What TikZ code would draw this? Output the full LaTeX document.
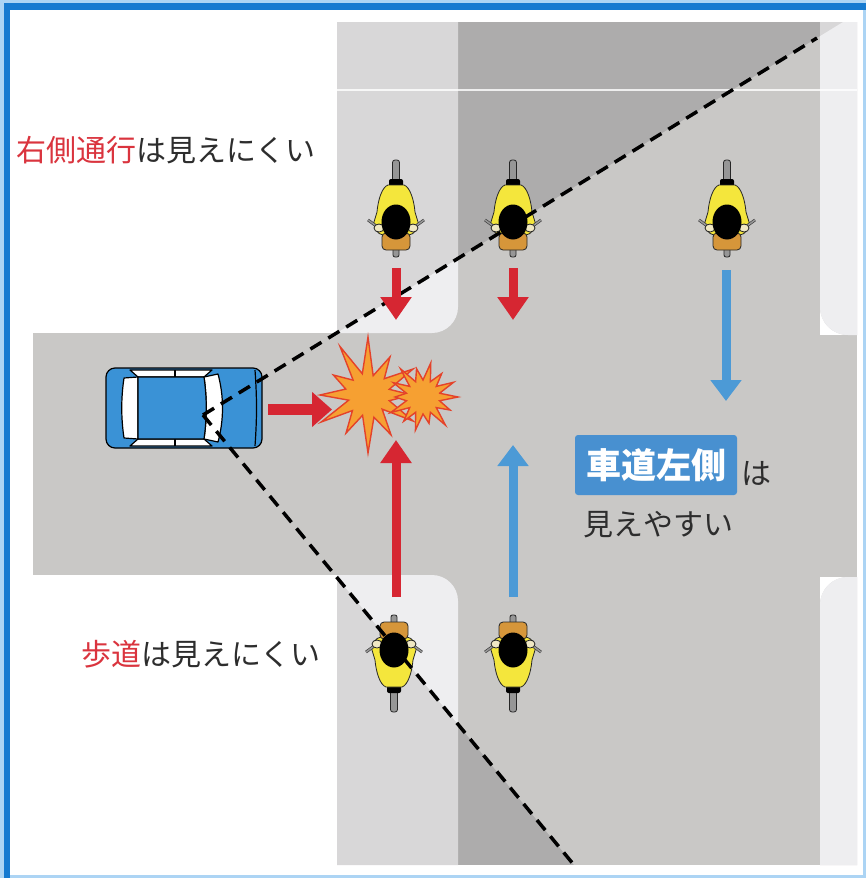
\documentclass[tikz,border=0pt]{standalone}
\usepackage{fontspec}
\setmainfont{Noto Sans CJK JP}
\usetikzlibrary{arrows.meta,calc}

\definecolor{frameBlue}{RGB}{22,122,208}
\definecolor{frameLight}{RGB}{172,212,244}
\definecolor{roadLight}{RGB}{201,200,198}
\definecolor{roadDark}{RGB}{173,172,172}
\definecolor{walkGray}{RGB}{216,215,216}
\definecolor{walkWhite}{RGB}{238,238,240}
\definecolor{carBlue}{RGB}{58,146,214}
\definecolor{warnRed}{RGB}{214,38,50}
\definecolor{textRed}{RGB}{218,52,62}
\definecolor{okBlue}{RGB}{76,154,214}
\definecolor{tagBlue}{RGB}{72,144,208}
\definecolor{boomFill}{RGB}{246,160,50}
\definecolor{boomLine}{RGB}{228,66,42}
\definecolor{bikeYellow}{RGB}{244,230,60}
\definecolor{seatOrange}{RGB}{214,150,58}
\definecolor{gloveCream}{RGB}{240,232,196}
\definecolor{wheelGray}{RGB}{150,150,150}
\definecolor{inkGray}{RGB}{45,45,45}

% the four sidewalk blocks, filled with #1
\newcommand{\sidewalks}[1]{
  \fill[#1] (337,22) -- (458,22) -- (458,307) arc[start angle=0, end angle=90, radius=26] -- (337,333) -- cycle;
  \fill[#1] (337,865) -- (337,575) -- (432,575) arc[start angle=-90, end angle=0, radius=26] -- (458,865) -- cycle;
  \fill[#1] (857,22) -- (820,22) -- (820,307) arc[start angle=180, end angle=90, radius=28] -- (857,335) -- cycle;
  \fill[#1] (857,865) -- (820,865) -- (820,605) arc[start angle=180, end angle=270, radius=28] -- (857,577) -- cycle;
}

\tikzset{
  carLine/.style = {draw=black, line width=1.2pt, line join=round},
  bikeLine/.style = {draw=black!85, line width=0.8pt},
  sight/.style = {draw=black, line width=3.5pt, dash pattern=on 13pt off 8pt},
  boom/.style = {fill=boomFill, draw=boomLine, line width=1.4pt},
  redArrow/.style = {draw=warnRed, line width=9pt, -{Triangle[width=30pt, length=23pt]}},
  blueArrow/.style = {draw=okBlue, line width=9pt, -{Triangle[width=30pt, length=21pt]}},
  noteText/.style = {anchor=west, inner sep=0pt, text=inkGray, font=\fontsize{30}{30}\selectfont},
  laneTag/.style = {fill=tagBlue, text=white, rounded corners=3pt, minimum width=162pt,
    minimum height=60pt, inner sep=0pt, font=\fontsize{35}{35}\selectfont\bfseries},
  bike/.pic = {
    % rear wheel and tail
    \draw[bikeLine, fill=wheelGray, rounded corners=2.5] (-3.5,-62) rectangle (3.5,-38);
    \fill[black, rounded corners=2] (-7,-43) rectangle (7,-34);
    % rider on the tank
    \draw[bikeLine, fill=bikeYellow] (-8,-37) .. controls (-14,-35) and (-18,-22) .. (-19,-10)
      -- (-22,0) .. controls (-22,8) and (-18,12) .. (-13,13) -- (13,13)
      .. controls (18,12) and (22,8) .. (22,0) -- (19,-10)
      .. controls (18,-22) and (14,-35) .. (8,-37) -- cycle;
    % handlebar and gloves
    \draw[draw=black!80, double=wheelGray, double distance=1.6pt, line width=0.6pt]
      (-28,-2) -- (-17,6) (28,-2) -- (17,6);
    \draw[bikeLine, fill=gloveCream] (-17,6) ellipse (5 and 4);
    \draw[bikeLine, fill=gloveCream] (17,6) ellipse (5 and 4);
    % front wheel and seat
    \draw[bikeLine, fill=wheelGray, rounded corners=2] (-3,24) rectangle (3,35);
    \draw[bikeLine, fill=seatOrange, rounded corners=4] (-14,11) rectangle (14,28);
    % helmet
    \fill[black] (0,0) ellipse (14.5 and 17.5);
  }
}

\begin{document}
\begin{tikzpicture}[x=1pt, y=-1pt]
  \useasboundingbox (0,0) rectangle (866,878);
  \fill[white] (0,0) rectangle (866,878);

  % roads and sidewalks
  \fill[roadDark] (337,22) rectangle (820,865);
  \fill[roadDark] (820,335) rectangle (857,577);
  \fill[roadLight] (33,333) rectangle (337,575);
  \sidewalks{walkGray}

  \coordinate (eye) at (203,415);
  \coordinate (viewTop) at (817,38);
  \coordinate (viewBot) at (574,865);

  % lighter inside the driver's view
  \begin{scope}
    \clip (eye) -- ($(eye)!1.2!(viewTop)$) -- (1100,-100) -- (1100,1100) -- ($(eye)!1.3!(viewBot)$) -- cycle;
    \fill[roadLight] (337,22) rectangle (820,865);
    \fill[roadLight] (820,335) rectangle (857,577);
    \sidewalks{walkWhite}
  \end{scope}
  \draw[white, line width=1.5pt, opacity=0.8] (337,90) -- (857,90);

  % car
  \begin{scope}[shift={(184,408)}]
    \draw[carLine, fill=carBlue, rounded corners=9] (-78,-40) rectangle (78,40);
    \draw[carLine] (71,-38) .. controls (73,-10) and (73,10) .. (71,38);
    \draw[carLine, fill=white] (-54,-38) -- (28,-38) -- (20,-31) -- (-46,-31) -- cycle;
    \draw[carLine, fill=white] (-54,38) -- (28,38) -- (20,31) -- (-46,31) -- cycle;
    \draw[carLine] (-9,-38) -- (-9,-31) (-9,38) -- (-9,31);
    \draw[carLine, fill=white] (-46,-31) -- (-60,-30) .. controls (-63,-10) and (-63,10) .. (-60,30) -- (-46,31) -- cycle;
    \draw[carLine, fill=white] (20,-31) -- (34,-34) .. controls (40,-12) and (40,12) .. (34,34)
      -- (20,31) .. controls (23,10) and (23,-10) .. (20,-31) -- cycle;
    \draw[carLine, fill=carBlue] (-46,-31) -- (20,-31) .. controls (23,-10) and (23,10) .. (20,31) -- (-46,31) -- cycle;
  \end{scope}

  % crash
  \coordinate (boomBig) at (368,395);
  \coordinate (boomSmall) at (423,397);
  \filldraw[boom] ($(boomBig)+(-15:22)$)
    \foreach \r/\q [count=\i] in {44/22,52/20,46/23,58/21,44/22,54/20,48/23,40/21,56/22,58/20,44/23,52/22} {
      -- ($(boomBig)+({30*(\i-1)}:\r)$) -- ($(boomBig)+({30*\i-15}:\q)$)
    } -- cycle;
  \filldraw[boom] ($(boomSmall)+(-12.857:17)$)
    \foreach \r [count=\i] in {35,30,36,27,34,31,36,28,33,36,29,35,30,34} {
      -- ($(boomSmall)+({25.714*(\i-1)}:\r)$) -- ($(boomSmall)+({25.714*\i-12.857}:17)$)
    } -- cycle;

  % riders
  \coordinate (bikeTL) at (396,222);
  \coordinate (bikeTM) at (513,222);
  \coordinate (bikeTR) at (727,222);
  \coordinate (bikeBL) at (394,650);
  \coordinate (bikeBM) at (513,650);
  \pic at (bikeTL) {bike};
  \pic at (bikeTM) {bike};
  \pic at (bikeTR) {bike};
  \pic[yscale=-1] at (bikeBL) {bike};
  \pic[yscale=-1] at (bikeBM) {bike};

  % lines of sight
  \draw[sight] (eye) -- (viewTop);
  \draw[sight] (eye) -- (viewBot);

  % directions
  \coordinate (carFront) at (268,409.5);
  \coordinate (carHit) at (332,409.5);
  \coordinate (tlFrom) at (396,268);
  \coordinate (tlTo) at (396,320);
  \coordinate (tmFrom) at (513,268);
  \coordinate (tmTo) at (513,320);
  \coordinate (trFrom) at (726,270);
  \coordinate (trTo) at (726,401);
  \coordinate (blFrom) at (396,597);
  \coordinate (blTo) at (396,440);
  \coordinate (bmFrom) at (513,597);
  \coordinate (bmTo) at (513,445);
  \draw[redArrow, line width=11pt, -{Triangle[width=34pt, length=20pt]}] (carFront) -- (carHit);
  \draw[redArrow] (tlFrom) -- (tlTo);
  \draw[redArrow] (tmFrom) -- (tmTo);
  \draw[redArrow] (blFrom) -- (blTo);
  \draw[blueArrow] (trFrom) -- (trTo);
  \draw[blueArrow] (bmFrom) -- (bmTo);

  % notes
  \node[noteText] (rightSide) at (16,150) {\textcolor{textRed}{右側通行}は見えにくい};
  \node[noteText] (walkway) at (81,654) {\textcolor{textRed}{歩道}は見えにくい};
  \node[laneTag] (leftLane) at (656,465) {車道左側};
  \node[noteText] (leftLaneWa) at (741,473) {は};
  \node[noteText] (easySeen) at (583,525) {見えやすい};

  % frame
  \fill[frameLight] (0,0) rectangle (866,3);
  \fill[frameLight] (0,0) rectangle (4,878);
  \fill[frameLight] (0,875) rectangle (866,878);
  \fill[frameLight] (863,0) rectangle (866,878);
  \fill[frameBlue] (4,3) rectangle (866,10);
  \fill[frameBlue] (4,3) rectangle (10,878);
\end{tikzpicture}
\end{document}
